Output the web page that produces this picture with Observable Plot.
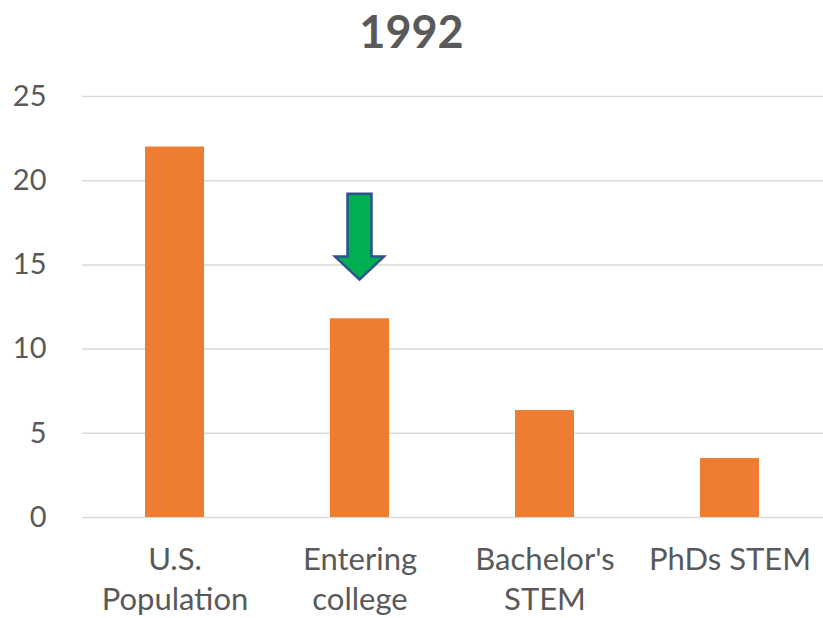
<!DOCTYPE html>
<html>
<head>
<meta charset="utf-8">
<script src="https://cdn.jsdelivr.net/npm/d3@7"></script>
<script src="https://cdn.jsdelivr.net/npm/@observablehq/plot@0.6"></script>
<style>
  html, body { margin: 0; padding: 0; background: #fff; overflow: hidden; }
  #wrap { width: 823px; height: 618px; font-family: Lato, "Open Sans", sans-serif; }
  h1 { margin: 0; height: 60px; line-height: 62px; text-align: center; font-size: 45px; font-weight: 700; color: #595959; }
  #chart svg { overflow: visible; }
</style>
</head>
<body>
<div id="wrap">
  <h1 id="title"></h1>
  <div id="chart"></div>
</div>
<script>
const title = "1992";
const categories = ["U.S. Population", "Entering college", "Bachelor's STEM", "PhDs STEM"];
const tickLabels = ["U.S.\nPopulation", "Entering\ncollege", "Bachelor's\nSTEM", "PhDs STEM"];
const values = [22, 11.8, 6.35, 3.5];
const yTicks = [0, 5, 10, 15, 20, 25];
const arrowCategory = "Entering college";
const arrowTop = 19.2;
const arrowTip = 14.1;

document.getElementById("title").textContent = title;
const data = categories.map((c, i) => ({category: c, value: values[i]}));
const labelOf = new Map(categories.map((c, i) => [c, tickLabels[i]]));

const arrowMark = Plot.dot([{category: arrowCategory}], {
  x: "category", y: () => arrowTop,
  render(index, scales, values, dims, context) {
    const x = scales.x(arrowCategory) + scales.x.bandwidth() / 2;
    const y0 = scales.y(arrowTop), y1 = scales.y(arrowTip);
    const sw = 12, hw = 24.5, hh = 23;
    const pts = [[x - sw, y0], [x + sw, y0], [x + sw, y1 - hh], [x + hw, y1 - hh], [x, y1], [x - hw, y1 - hh], [x - sw, y1 - hh]];
    const g = d3.create("svg:g");
    g.append("path")
      .attr("d", "M" + pts.map(p => p.join(",")).join("L") + "Z")
      .attr("fill", "#00B050")
      .attr("stroke", "#2F528F")
      .attr("stroke-width", 2.5)
      .attr("stroke-linejoin", "miter");
    return g.node();
  }
});

const chart = Plot.plot({
  width: 823,
  height: 558,
  marginTop: 36,
  marginBottom: 101,
  marginLeft: 82,
  marginRight: 0,
  style: {fontFamily: "Lato, 'Open Sans', sans-serif", color: "#595959", background: "#fff", overflow: "visible"},
  x: {domain: categories, paddingInner: 0.68, paddingOuter: 0.34, label: null},
  y: {domain: [0, 25], label: null},
  marks: [
    Plot.gridY(yTicks, {stroke: "#d9d9d9", strokeOpacity: 1, strokeWidth: 1.5}),
    Plot.barY(data, {x: "category", y: "value", fill: "#ED7D31"}),
    arrowMark,
    Plot.axisY(yTicks, {tickSize: 0, tickPadding: 36, fontSize: 29, fill: "#595959", label: null}),
    Plot.axisX({tickSize: 0, tickPadding: 23, fontSize: 31, fill: "#595959", lineHeight: 1.32, tickFormat: d => labelOf.get(d), label: null})
  ]
});
document.getElementById("chart").appendChild(chart);
</script>
</body>
</html>
